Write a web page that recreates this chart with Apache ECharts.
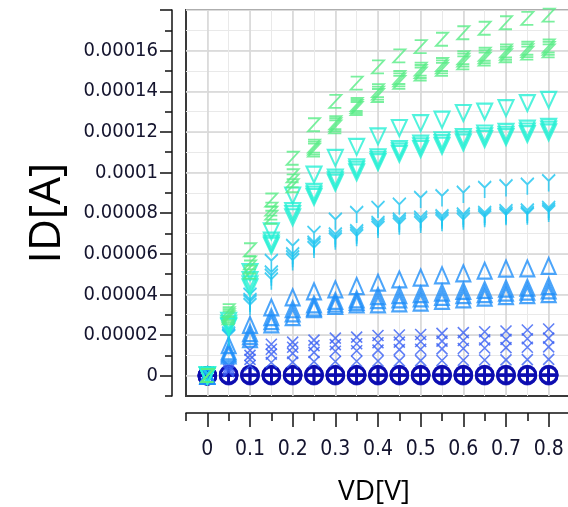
<!DOCTYPE html>
<html><head><meta charset="utf-8">
<script src="https://cdn.jsdelivr.net/npm/echarts@6/dist/echarts.min.js"></script>
<style>html,body{margin:0;padding:0;background:#fff}#c{width:568px;height:507px}</style>
</head><body><div id="c"></div>
<script>
// Drain voltage [V]
const VD = [0, 0.05, 0.1, 0.15, 0.2, 0.25, 0.3, 0.35, 0.4, 0.45, 0.5, 0.55, 0.6, 0.65, 0.7, 0.75, 0.8];

// Drain current readings, in microamps (converted to A below)
const circ1_uA = [0, 0, 0, 0, 0, 0, 0, 0, 0, 0, 0, 0, 0, 0, 0, 0, 0];
const circ2_uA = [0, 0.2, 0.2, 0.2, 0.2, 0.2, 0.2, 0.2, 0.2, 0.2, 0.2, 0.2, 0.2, 0.2, 0.2, 0.2, 0.2];
const circ3_uA = [0, 0.4, 0.4, 0.4, 0.4, 0.4, 0.4, 0.4, 0.4, 0.4, 0.4, 0.4, 0.4, 0.4, 0.4, 0.4, 0.4];
const circ4_uA = [0, 0.6, 0.6, 0.6, 0.6, 0.6, 0.6, 0.6, 0.6, 0.6, 0.6, 0.6, 0.6, 0.6, 0.6, 0.6, 0.6];

const x1_uA = [0, 5, 12.5, 15.5, 16.5, 17.5, 18.5, 19, 19.8, 20, 20.3, 20.8, 21.2, 21.6, 22, 22.5, 23];
const x2_uA = [0, 4, 10, 13, 14, 14.8, 15.3, 15.7, 16.2, 16.5, 16.8, 17, 17.3, 17.6, 17.9, 18.2, 18.5];
const x3_uA = [0, 3, 8, 10.6, 11, 11.5, 12, 12.3, 12.6, 12.8, 13, 13.2, 13.4, 13.6, 13.8, 14, 14.2];
const x4_uA = [0, 2, 5, 6.5, 6.7, 6.9, 7, 7.1, 7.2, 7.3, 7.4, 7.5, 7.6, 7.7, 7.8, 7.9, 8];

const up1_uA = [0, 15, 25, 33.6, 38.6, 41.5, 42.5, 44.1, 45.8, 47.4, 48.3, 49.4, 50.4, 51.7, 52.7, 52.8, 54];
const up2_uA = [0, 12, 21, 28.8, 32.7, 35.1, 36.8, 37.6, 39.2, 39.7, 40.1, 40.9, 41.7, 42.2, 42.9, 43.3, 44.1];
const up3_uA = [0, 11, 19.5, 26.8, 30.7, 33.5, 35.5, 36.3, 37.2, 37.6, 38, 38.8, 39.6, 40.2, 40.9, 41.4, 42];
const up4_uA = [0, 10, 18, 25.3, 28.8, 32.7, 34.3, 35.1, 35.1, 35.6, 36, 36.8, 37.6, 38.4, 39.2, 39.6, 40.1];

const y1_uA = [0, 22, 39, 55.7, 63, 69.5, 76, 79.3, 81.8, 83.4, 86.7, 87.5, 89.2, 91.6, 92.4, 93.2, 94.9];
const y2_uA = [0, 20, 36.5, 50, 59, 64.6, 68.7, 70.3, 74.4, 76, 76.9, 77.7, 78.5, 79.3, 80.2, 80.5, 81.8];
const y3_uA = [0, 19, 35.5, 48.4, 57.5, 63.5, 67.4, 69.1, 73.2, 74.8, 75.6, 76.5, 77.3, 78.2, 79, 79.3, 80.8];
const y4_uA = [0, 18.5, 34, 46.5, 56, 62.1, 66.2, 67.9, 72, 73.6, 74.4, 75.3, 76, 77.2, 78.2, 78.5, 79.8];

const dn1_uA = [0, 27, 51, 71, 88.7, 99, 107.2, 112.6, 117.8, 121.9, 124.3, 126, 129.3, 130, 131.7, 134.2, 135.8];
const dn2_uA = [0, 25.5, 47, 66.5, 81, 90.5, 97.5, 102.6, 107.5, 111.6, 114.2, 115.9, 117.5, 119.2, 120, 121.6, 122.5];
const dn3_uA = [0, 24.5, 45, 65, 79.5, 89.2, 96.2, 101.4, 106.3, 110.4, 112.9, 114.5, 116.2, 117.8, 118.6, 120.2, 121.1];
const dn4_uA = [0, 24, 43.5, 64, 78, 88, 95, 100.1, 105.1, 109.2, 111.6, 113.2, 114.8, 116.5, 117.4, 118.9, 119.8];

const z1_uA = [0, 32, 62, 86.5, 107, 123.5, 135, 144, 152, 157.4, 162, 165.6, 168.8, 171, 173.7, 175.9, 177.5];
const z2_uA = [0, 30.5, 55.5, 82, 98.4, 113, 124.5, 133.5, 140.3, 146.8, 150.9, 153.2, 156.5, 158.2, 159.9, 161.2, 162.3];
const z3_uA = [0, 29.5, 53.5, 80, 95.9, 112, 123.5, 132.5, 139.1, 145.6, 149.7, 152, 155.3, 157, 158.7, 160, 161.1];
const z4_uA = [0, 28.5, 51, 78, 93.5, 111, 122.5, 131.5, 137.9, 144.4, 148.5, 150.8, 154, 155.8, 157.5, 158.8, 159.9];

// Tick labels
const xTickValues = [0, 0.1, 0.2, 0.3, 0.4, 0.5, 0.6, 0.7, 0.8];
const xTickLabels = ['0', '0.1', '0.2', '0.3', '0.4', '0.5', '0.6', '0.7', '0.8'];
const yTickValues = [0, 0.00002, 0.00004, 0.00006, 0.00008, 0.0001, 0.00012, 0.00014, 0.00016];
const yTickLabels = ['0', '0.00002', '0.00004', '0.00006', '0.00008', '0.0001', '0.00012', '0.00014', '0.00016'];
const yMajorTicks = [0, 0.00002, 0.00004, 0.00006, 0.00008, 0.0001, 0.00012, 0.00014, 0.00016, 0.00018];

const SYM = {
  circ: 'path://M0,-10A10,10,0,1,1,0,10A10,10,0,1,1,0,-10ZM0,-10L0,10M-10,0L10,0',
  x: 'path://M-1,-1L1,1M1,-1L-1,1',
  up: 'path://M0,-1L1,1L-1,1Z',
  y: 'path://M-5,-5L0,0L5,-5M0,0L0,8',
  dn: 'path://M-1,-1L1,-1L0,1Z',
  z: 'path://M-1,-1L1,-1L-1,1L1,1'
};
const groups = [
  { key: 'circ', color: '#0c0cb0', size: [17, 17], bw: 2.6, sets: [circ1_uA, circ2_uA, circ3_uA, circ4_uA] },
  { key: 'x', color: '#3a60f4', size: [11, 11], bw: 1.6, sets: [x4_uA, x3_uA, x2_uA, x1_uA] },
  { key: 'up', color: '#1f8ef9', size: [14, 16], bw: 2.1, sets: [up4_uA, up3_uA, up2_uA, up1_uA] },
  { key: 'y', color: '#1cc4f0', size: [13, 17], bw: 1.9, sets: [y4_uA, y3_uA, y2_uA, y1_uA] },
  { key: 'dn', color: '#26f0d4', size: [15, 16], bw: 2.1, sets: [dn4_uA, dn3_uA, dn2_uA, dn1_uA] },
  { key: 'z', color: '#58ec86', size: [12, 13], bw: 1.8, sets: [z4_uA, z3_uA, z2_uA, z1_uA] }
];

const series = [];
groups.forEach(g => {
  g.sets.forEach((vals, k) => {
    series.push({
      type: 'scatter', name: g.key + (k + 1), silent: true, animation: false,
      xAxisIndex: 0, yAxisIndex: 0,
      symbol: SYM[g.key], symbolSize: g.size,
      itemStyle: { color: 'rgba(0,0,0,0)', borderColor: g.color, borderWidth: g.bw },
      data: VD.map((v, i) => [v, vals[i] * 1e-6])
    });
  });
});

const tickFont = "'Liberation Sans Narrow', 'Arial Narrow', 'DejaVu Sans Condensed', sans-serif";
const labelColor = '#14142e';
const fmtFrom = (vals, labels) => v => {
  const i = vals.findIndex(t => Math.abs(t - v) < 1e-9);
  return i >= 0 ? labels[i] : '';
};

const chart = echarts.init(document.getElementById('c'), null, { renderer: 'canvas' });
chart.setOption({
  animation: false,
  backgroundColor: '#fff',
  grid: { left: 186, top: 10, width: 384, height: 386, show: true, borderColor: '#3a3a3a', borderWidth: 2, backgroundColor: 'rgba(0,0,0,0)', containLabel: false, outerBoundsMode: 'none' },
  xAxis: [
    { type: 'value', min: -0.05, max: 0.85, interval: 0.05, position: 'bottom', offset: 17,
      axisLine: { show: true, onZero: false, lineStyle: { color: '#111', width: 1.5 } },
      axisTick: { show: true, length: 8, lineStyle: { color: '#111', width: 1.5 } },
      axisLabel: { show: false },
      splitLine: { show: true, showMinLine: false, lineStyle: { color: '#e9e9e9', width: 1 } } },
    { type: 'value', min: -0.05, max: 0.85, position: 'bottom', offset: 17,
      axisLine: { show: false, onZero: false },
      axisTick: { show: true, length: 14, customValues: xTickValues, lineStyle: { color: '#111', width: 1.5 } },
      axisLabel: { show: true, customValues: xTickValues, formatter: fmtFrom(xTickValues, xTickLabels), margin: 26, fontSize: 21, fontFamily: tickFont, color: labelColor },
      splitLine: { show: true, lineStyle: { color: '#d6d6d6', width: 1.5 } } }
  ],
  yAxis: [
    { type: 'value', min: -0.00001, max: 0.00018, interval: 0.00001, position: 'left', offset: 14,
      axisLine: { show: true, onZero: false, lineStyle: { color: '#111', width: 1.5 } },
      axisTick: { show: true, length: 7, lineStyle: { color: '#111', width: 1.5 } },
      axisLabel: { show: false },
      splitLine: { show: true, showMinLine: false, lineStyle: { color: '#e9e9e9', width: 1 } } },
    { type: 'value', min: -0.00001, max: 0.00018, position: 'left', offset: 14,
      axisLine: { show: false, onZero: false },
      axisTick: { show: true, length: 12, customValues: yMajorTicks, lineStyle: { color: '#111', width: 1.5 } },
      axisLabel: { show: true, customValues: yTickValues, formatter: fmtFrom(yTickValues, yTickLabels), margin: 14, fontSize: 20, fontFamily: tickFont, color: labelColor },
      splitLine: { show: true, lineStyle: { color: '#d6d6d6', width: 1.5 } } }
  ],
  graphic: [
    { type: 'text', x: 47, y: 213, rotation: Math.PI / 2, silent: true,
      style: { text: 'ID[A]', font: "44px 'Open Sans', sans-serif", fill: '#000', align: 'center', verticalAlign: 'middle' } },
    { type: 'text', x: 374, y: 492, silent: true,
      style: { text: 'VD[V]', font: "28px 'Open Sans', sans-serif", fill: '#000', align: 'center', verticalAlign: 'middle' } }
  ],
  series: series
});
</script>
</body></html>
